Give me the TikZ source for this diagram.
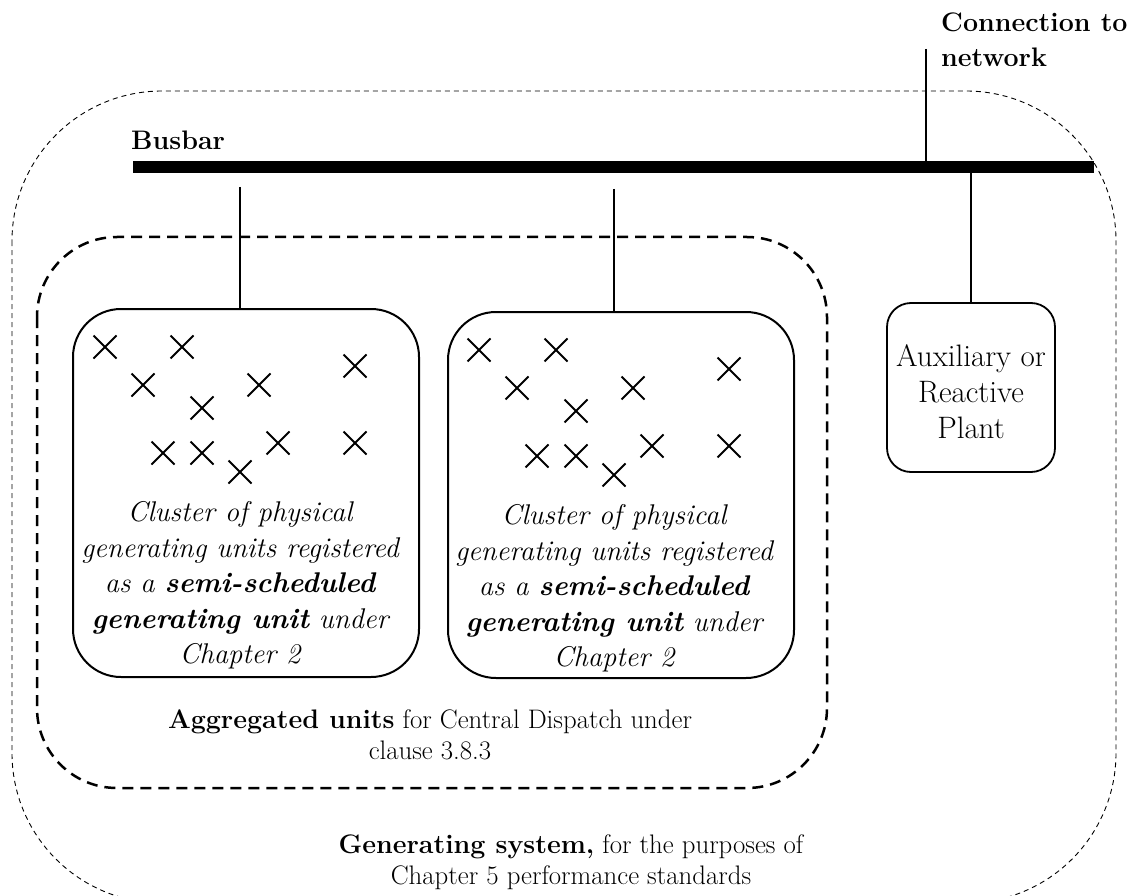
\documentclass[tikz,border=0pt]{standalone}
\usepackage{fontspec}
\usetikzlibrary{shapes.misc}

\tikzset{
  sysframe/.style={dash pattern=on 5pt off 4pt, line width=0.9pt, rounded corners=150pt},
  aggframe/.style={dash pattern=on 11pt off 7pt, line width=2.5pt, rounded corners=80pt},
  busbar/.style={line width=12pt},
  feeder/.style={line width=1.6pt},
  clusterbox/.style={draw, line width=2pt, rounded corners=48pt, minimum width=346pt, minimum height=368pt},
  auxbox/.style={draw, line width=1.8pt, rounded corners=24pt, minimum width=168pt, minimum height=169pt,
    inner sep=0pt, align=center, font=\fontsize{31}{36}\selectfont},
  unitx/.style={draw, cross out, line width=2pt, minimum size=21pt, inner sep=0pt},
  clustertext/.style={align=center, inner sep=0pt, font=\itshape\fontsize{28.5}{35.5}\selectfont},
  heading/.style={inner sep=0pt, align=left, font=\bfseries\fontsize{26.8}{35}\selectfont},
  caption/.style={inner sep=0pt, align=center, font=\fontsize{26.8}{31}\selectfont},
}

\begin{document}
\begin{tikzpicture}[x=1pt,y=-1pt]
  \clip (0,0) rectangle (1135,896);

  \draw[sysframe] (12,91) rectangle (1116,903);
  \draw[aggframe] (37,237) rectangle (827,788);

  \coordinate (busL) at (133,167);
  \coordinate (busR) at (1094,167);
  \coordinate (nettap) at (926,49);
  \coordinate (tap1) at (240,187);
  \coordinate (tap2) at (614,189);

  \node[heading, anchor=base west] (bustext) at (131,150) {Busbar};
  \node[heading, anchor=north west] (nettext) at (941,13) {Connection to\\network};

  \node[clusterbox] (cl1) at (246,493) {};
  \node[clusterbox, minimum height=366pt] (cl2) at (621,495) {};
  \node[auxbox] (aux) at (971,387.5) {\rule{0pt}{31pt}Auxiliary or\\Reactive\\Plant};

  \foreach \n/\cx/\top in {1/240/309, 2/614/312}{
    \foreach \dx/\dy [count=\i] in {-135/38, -58/38, -97/76, 19/76, 115/57, -38/99,
                                   -77/144, -38/144, 38/134, 115/134, 0/163}
      \node[unitx] (u\n-\i) at (\cx+\dx,\top+\dy) {};
    \node[clustertext, anchor=north] (txt\n) at (\cx,\top+192.5)
      {Cluster of physical\\generating units registered\\as a \textbf{semi-scheduled}\\\textbf{generating unit} under\\Chapter 2};
  }

  \node[caption, anchor=north] (aggtext) at (430,709)
    {\textbf{Aggregated units} for Central Dispatch under\\clause 3.8.3};
  \node[caption, anchor=north] (systext) at (571,834)
    {\textbf{Generating system,} for the purposes of\\Chapter 5 performance standards};

  \draw[feeder] (nettap) -- (nettap |- busL);
  \draw[feeder] (aux.north) -- (aux.north |- busL);
  \draw[busbar] (busL) -- (busR);
  \draw[feeder] (tap1) -- (tap1 |- cl1.north);
  \draw[feeder] (tap2) -- (tap2 |- cl2.north);
\end{tikzpicture}
\end{document}
